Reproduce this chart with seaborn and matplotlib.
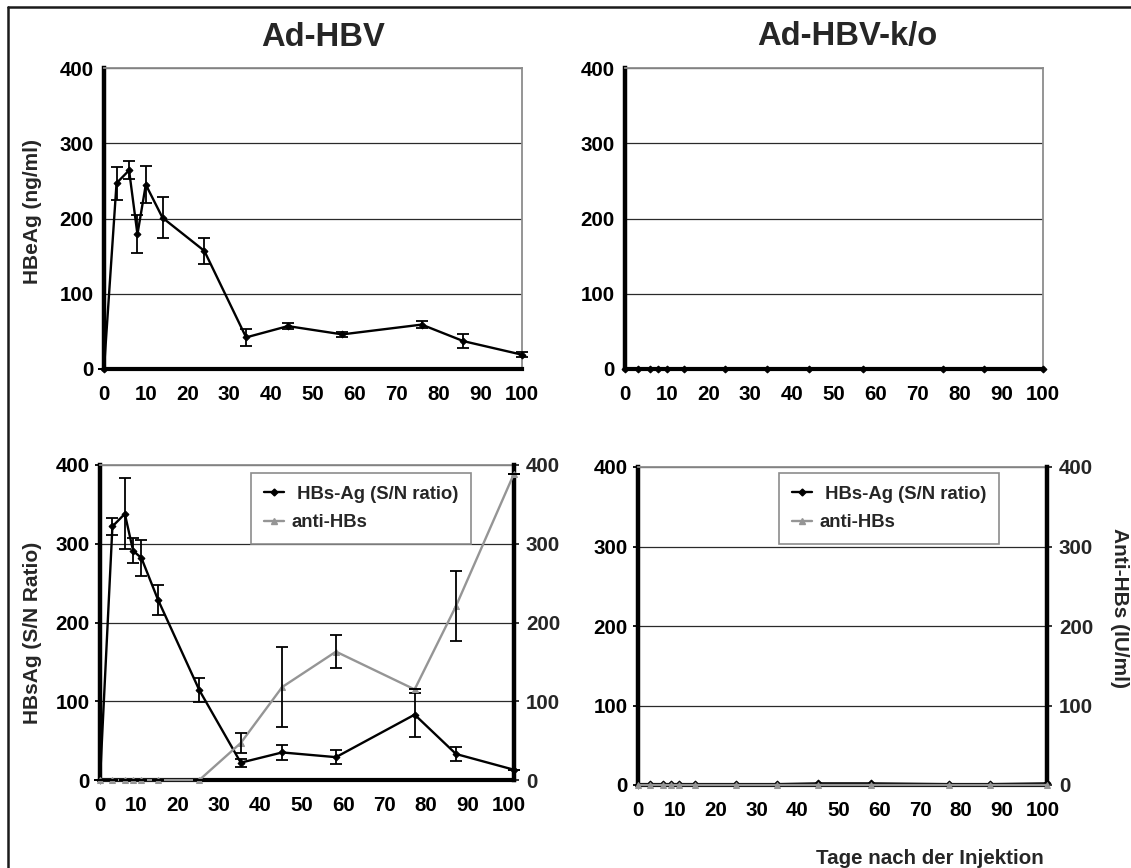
import matplotlib
matplotlib.use("Agg")
import matplotlib.pyplot as plt
import matplotlib.transforms as mtransforms
from matplotlib.lines import Line2D
import seaborn as sns
import pandas as pd

# ---------------- data ----------------
days = [0, 3, 6, 8, 10, 14, 24, 34, 44, 57, 76, 86, 100]

hbeag_adhbv = [0, 247, 264, 179, 245, 201, 157, 42, 57, 46, 59, 37, 19]
hbeag_adhbv_err = [0, 22, 12, 25, 25, 27, 17, 11, 4, 3, 5, 9, 3]

hbeag_ko = [0, 0, 0, 0, 0, 0, 0, 0, 0, 0, 0, 0, 0]

hbsag_adhbv = [0, 322, 338, 291, 282, 229, 114, 22, 35, 29, 83, 33, 13]
hbsag_adhbv_err = [0, 11, 45, 16, 23, 19, 15, 5, 10, 9, 28, 9, 0]
antihbs_adhbv = [0, 0, 0, 0, 0, 0, 0, 47, 118, 163, 115, 221, 389]
antihbs_adhbv_err = [0, 0, 0, 0, 0, 0, 0, 13, 51, 21, 0, 44, 0]

hbsag_ko = [0, 1, 1, 1, 1, 1, 1, 1, 2, 2, 1, 1, 2]
antihbs_ko = [0, 0, 0, 0, 0, 0, 0, 0, 0, 0, 0, 0, 0]

x_ticks = list(range(0, 101, 10))
y_ticks = [0, 100, 200, 300, 400]

titles = ["Ad-HBV", "Ad-HBV-k/o"]
ylabel_top = "HBeAg (ng/ml)"
ylabel_bottom = "HBsAg (S/N Ratio)"
ylabel_right = "Anti-HBs (IU/ml)"
xlabel = "Tage nach der Injektion"
legend_labels = [" HBs-Ag (S/N ratio)", "anti-HBs"]

# ---------------- style ----------------
sns.set_theme(style="white")
plt.rcParams["font.family"] = ["Liberation Sans", "DejaVu Sans"]
plt.rcParams["font.weight"] = "bold"
plt.rcParams["axes.labelweight"] = "bold"

W, H = 1131, 868
fig = plt.figure(figsize=(W / 100, H / 100), dpi=100)
fig.patch.set_facecolor("white")

GREY = "#8c8c8c"
LINE_GREY = "#959595"
TICK_FS = 14.8


def px_axes(left, right, top, bottom):
    return fig.add_axes([left / W, 1 - bottom / H, (right - left) / W, (bottom - top) / H])


def style(ax, thick_right=False, label_shift=0):
    ax.set_facecolor("white")
    ax.set_xlim(0, 100)
    ax.set_ylim(0, 400)
    ax.set_xticks(x_ticks)
    ax.set_yticks(y_ticks)
    ax.yaxis.grid(True, color="#2a2a2a", lw=0.9)
    ax.xaxis.grid(False)
    ax.set_axisbelow(True)
    ax.spines["left"].set_linewidth(3.2)
    ax.spines["left"].set_color("black")
    ax.spines["bottom"].set_linewidth(3.0)
    ax.spines["bottom"].set_color("black")
    ax.spines["top"].set_linewidth(1.3)
    ax.spines["top"].set_color(GREY)
    if thick_right:
        ax.spines["right"].set_visible(False)
    else:
        ax.spines["right"].set_linewidth(1.3)
        ax.spines["right"].set_color(GREY)
    ax.tick_params(axis="both", which="both", direction="out", length=3.5, width=1.3,
                   color="black", labelsize=TICK_FS, labelcolor="black")
    ax.tick_params(axis="x", pad=8)
    ax.tick_params(axis="y", pad=4)
    for lab in ax.get_xticklabels() + ax.get_yticklabels():
        lab.set_fontweight("bold")
    if label_shift:
        offset = mtransforms.ScaledTranslation(label_shift / 100, 0, fig.dpi_scale_trans)
        for i, lab in enumerate(ax.get_xticklabels()):
            if i > 0:
                lab.set_transform(lab.get_transform() + offset)
    ax.set_xlabel("")
    ax.set_ylabel("")


def style_right(axr):
    axr.set_ylim(0, 400)
    axr.set_yticks(y_ticks)
    axr.set_ylabel("")
    for s in ["left", "top", "bottom"]:
        axr.spines[s].set_visible(False)
    axr.spines["right"].set_linewidth(3.2)
    axr.spines["right"].set_color("black")
    axr.tick_params(axis="y", direction="out", length=3.5, width=1.3,
                    labelsize=TICK_FS, pad=5)
    for lab in axr.get_yticklabels():
        lab.set_fontweight("bold")


def draw_series(ax, x, y, err, color, marker, ms):
    df = pd.DataFrame({"day": x, "val": y})
    sns.lineplot(data=df, x="day", y="val", ax=ax, color=color, marker=marker,
                 markersize=ms, markeredgecolor=color, linewidth=1.7,
                 clip_on=False, zorder=4, legend=False)
    if err is not None:
        ax.errorbar(x, y, yerr=err, fmt="none", ecolor="black", elinewidth=1.3,
                    capsize=4, capthick=1.3, zorder=5, clip_on=False)


# ---------------- top-left ----------------
ax1 = px_axes(104, 522, 68, 369)
draw_series(ax1, days, hbeag_adhbv, hbeag_adhbv_err, "black", "D", 3.5)
style(ax1)

# ---------------- top-right ----------------
ax2 = px_axes(625, 1043, 68, 369)
draw_series(ax2, days, hbeag_ko, None, "black", "D", 3.5)
style(ax2)

# ---------------- bottom-left ----------------
ax3 = px_axes(100, 514, 465, 780)
draw_series(ax3, days, hbsag_adhbv, hbsag_adhbv_err, "black", "D", 3.5)
style(ax3, thick_right=True, label_shift=-5)
ax3r = ax3.twinx()
draw_series(ax3r, days, antihbs_adhbv, antihbs_adhbv_err, LINE_GREY, "^", 5)
style_right(ax3r)

# ---------------- bottom-right ----------------
ax4 = px_axes(638, 1047, 467, 785)
draw_series(ax4, days, hbsag_ko, None, "black", "D", 3.5)
style(ax4, thick_right=True, label_shift=-4)
ax4r = ax4.twinx()
draw_series(ax4r, days, antihbs_ko, None, LINE_GREY, "^", 5)
style_right(ax4r)

# ---------------- legends ----------------
handles = [
    Line2D([], [], color="black", marker="D", markersize=3.5, lw=1.7),
    Line2D([], [], color=LINE_GREY, marker="^", markersize=5, lw=1.7),
]
for axr, (lx, ly) in [(ax3r, (251, 473)), (ax4r, (779, 473))]:
    leg = axr.legend(handles, legend_labels, loc="upper left",
                     bbox_to_anchor=(lx / W, 1 - ly / H), bbox_transform=fig.transFigure,
                     fontsize=13.3, frameon=True, fancybox=False, framealpha=1,
                     edgecolor=GREY, borderpad=0.7, labelspacing=0.62,
                     handlelength=1.1, handletextpad=0.4, borderaxespad=0)
    leg.get_frame().set_linewidth(1.2)
    for t in leg.get_texts():
        t.set_fontweight("bold")

# ---------------- texts ----------------
fig.text(323 / W, 1 - 37 / H, titles[0], ha="center", va="center", fontsize=23.6, fontweight="bold")
fig.text(847 / W, 1 - 37 / H, titles[1], ha="center", va="center", fontsize=23.6, fontweight="bold")
fig.text(33 / W, 1 - 211 / H, ylabel_top, rotation=90, ha="center", va="center",
         fontsize=15, fontweight="bold")
fig.text(33 / W, 1 - 633 / H, ylabel_bottom, rotation=90, ha="center", va="center",
         fontsize=15, fontweight="bold")
fig.text(1119 / W, 1 - 608 / H, ylabel_right, rotation=-90, ha="center", va="center",
         fontsize=15, fontweight="bold")
fig.text(1044 / W, 1 - 864 / H, xlabel, ha="right", va="baseline", fontsize=14.8, fontweight="bold")

# ---------------- outer frame ----------------
fig.add_artist(Line2D([8 / W, 1], [1 - 7 / H, 1 - 7 / H], transform=fig.transFigure,
                      color="#1a1a1a", lw=1.8))
fig.add_artist(Line2D([8 / W, 8 / W], [0, 1 - 7 / H], transform=fig.transFigure,
                      color="#1a1a1a", lw=1.8))

fig.savefig("out.png", dpi=100, facecolor="white")
